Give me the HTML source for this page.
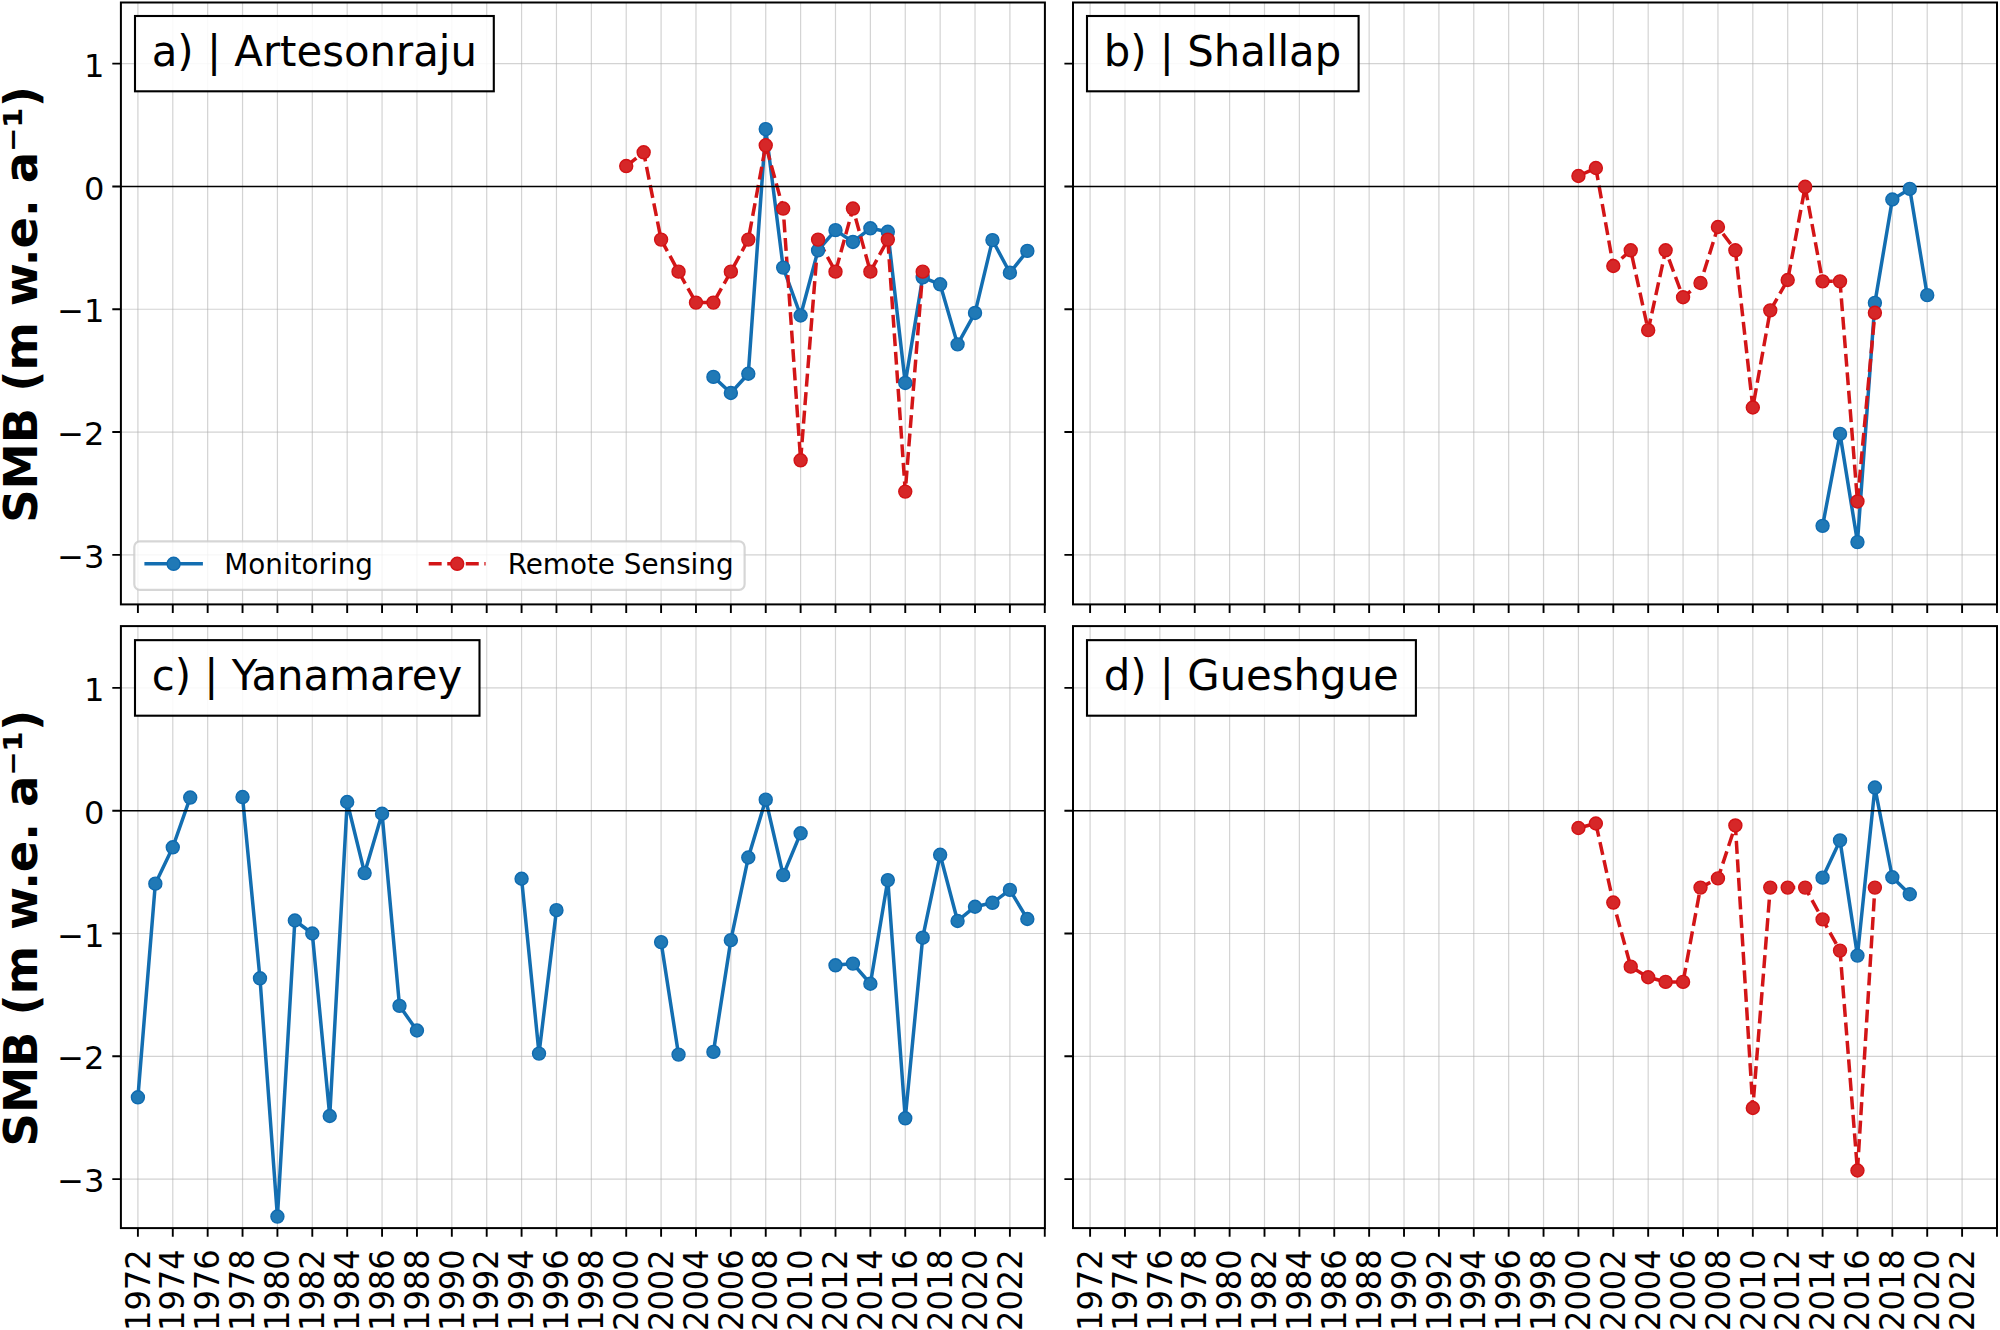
<!DOCTYPE html>
<html lang="en"><head><meta charset="utf-8"><title>SMB time series</title>
<style>
html,body{margin:0;padding:0;background:#fff;}
body{width:2000px;height:1330px;overflow:hidden;}
svg{display:block;}
text{font-family:"DejaVu Sans","Liberation Sans",sans-serif;fill:#000;}
.tk{font-size:32.1px;}
.lg{font-size:27.8px;}
.tt{font-size:41.8px;}
.yl{font-size:46.4px;font-weight:bold;}
.grid{stroke:#b0b0b0;stroke-opacity:0.56;stroke-width:1.2;fill:none;}
.sp{stroke:#000;stroke-width:2.0;fill:none;stroke-linecap:square;}
.tick{stroke:#000;stroke-width:1.9;fill:none;}
.zero{stroke:#000;stroke-width:1.6;fill:none;}
.bl{stroke:#136eb1;stroke-width:3.5;fill:none;stroke-linejoin:round;stroke-linecap:square;}
.rl{stroke:#d31517;stroke-width:3.5;fill:none;stroke-linejoin:round;stroke-dasharray:12.95 5.6;}
.bm{fill:#2079b6;stroke:#0f6bb0;stroke-width:1.4;}
.rm{fill:#d62728;stroke:#d31215;stroke-width:1.4;}
</style></head><body>
<svg width="2000" height="1330" viewBox="0 0 2000 1330">
<rect x="0" y="0" width="2000" height="1330" fill="#fff"/>
<g id="panel-a">
<path class="grid" d="M137.9 2.5V604.4M172.78 2.5V604.4M207.66 2.5V604.4M242.54 2.5V604.4M277.42 2.5V604.4M312.3 2.5V604.4M347.18 2.5V604.4M382.06 2.5V604.4M416.94 2.5V604.4M451.82 2.5V604.4M486.7 2.5V604.4M521.58 2.5V604.4M556.46 2.5V604.4M591.34 2.5V604.4M626.22 2.5V604.4M661.1 2.5V604.4M695.98 2.5V604.4M730.86 2.5V604.4M765.74 2.5V604.4M800.62 2.5V604.4M835.5 2.5V604.4M870.38 2.5V604.4M905.26 2.5V604.4M940.14 2.5V604.4M975.02 2.5V604.4M1009.9 2.5V604.4"/>
<path class="grid" d="M120.9 63.65H1044.9M120.9 309.25H1044.9M120.9 432.05H1044.9M120.9 554.85H1044.9"/>
<polyline class="bl" points="713.42,376.91 730.86,393 748.3,373.72 765.74,129.1 783.18,267.62 800.62,315.51 818.06,250.31 835.5,230.17 852.94,241.96 870.38,228.32 887.82,231.76 905.26,382.93 922.7,277.32 940.14,284.32 957.58,344.37 975.02,312.93 992.46,240.11 1009.9,272.78 1027.34,250.92"/>
<polyline class="rl" points="626.22,166.07 643.66,152.31 661.1,239.62 678.54,271.67 695.98,302.62 713.42,302.62 730.86,271.67 748.3,239.62 765.74,145.31 783.18,208.55 800.62,460.29 818.06,239.62 835.5,271.67 852.94,208.55 870.38,271.67 887.82,239.62 905.26,491.61 922.7,271.67"/>
<path class="zero" d="M120.9 186.45H1044.9"/>
<g class="bm">
<circle cx="713.42" cy="376.91" r="6.5"/>
<circle cx="730.86" cy="393" r="6.5"/>
<circle cx="748.3" cy="373.72" r="6.5"/>
<circle cx="765.74" cy="129.1" r="6.5"/>
<circle cx="783.18" cy="267.62" r="6.5"/>
<circle cx="800.62" cy="315.51" r="6.5"/>
<circle cx="818.06" cy="250.31" r="6.5"/>
<circle cx="835.5" cy="230.17" r="6.5"/>
<circle cx="852.94" cy="241.96" r="6.5"/>
<circle cx="870.38" cy="228.32" r="6.5"/>
<circle cx="887.82" cy="231.76" r="6.5"/>
<circle cx="905.26" cy="382.93" r="6.5"/>
<circle cx="922.7" cy="277.32" r="6.5"/>
<circle cx="940.14" cy="284.32" r="6.5"/>
<circle cx="957.58" cy="344.37" r="6.5"/>
<circle cx="975.02" cy="312.93" r="6.5"/>
<circle cx="992.46" cy="240.11" r="6.5"/>
<circle cx="1009.9" cy="272.78" r="6.5"/>
<circle cx="1027.34" cy="250.92" r="6.5"/>
</g>
<g class="rm">
<circle cx="626.22" cy="166.07" r="6.5"/>
<circle cx="643.66" cy="152.31" r="6.5"/>
<circle cx="661.1" cy="239.62" r="6.5"/>
<circle cx="678.54" cy="271.67" r="6.5"/>
<circle cx="695.98" cy="302.62" r="6.5"/>
<circle cx="713.42" cy="302.62" r="6.5"/>
<circle cx="730.86" cy="271.67" r="6.5"/>
<circle cx="748.3" cy="239.62" r="6.5"/>
<circle cx="765.74" cy="145.31" r="6.5"/>
<circle cx="783.18" cy="208.55" r="6.5"/>
<circle cx="800.62" cy="460.29" r="6.5"/>
<circle cx="818.06" cy="239.62" r="6.5"/>
<circle cx="835.5" cy="271.67" r="6.5"/>
<circle cx="852.94" cy="208.55" r="6.5"/>
<circle cx="870.38" cy="271.67" r="6.5"/>
<circle cx="887.82" cy="239.62" r="6.5"/>
<circle cx="905.26" cy="491.61" r="6.5"/>
<circle cx="922.7" cy="271.67" r="6.5"/>
</g>
<path class="tick" d="M137.9 604.4v8.6M172.78 604.4v8.6M207.66 604.4v8.6M242.54 604.4v8.6M277.42 604.4v8.6M312.3 604.4v8.6M347.18 604.4v8.6M382.06 604.4v8.6M416.94 604.4v8.6M451.82 604.4v8.6M486.7 604.4v8.6M521.58 604.4v8.6M556.46 604.4v8.6M591.34 604.4v8.6M626.22 604.4v8.6M661.1 604.4v8.6M695.98 604.4v8.6M730.86 604.4v8.6M765.74 604.4v8.6M800.62 604.4v8.6M835.5 604.4v8.6M870.38 604.4v8.6M905.26 604.4v8.6M940.14 604.4v8.6M975.02 604.4v8.6M1009.9 604.4v8.6M1044.78 604.4v8.6M120.9 63.65h-8.6M120.9 186.45h-8.6M120.9 309.25h-8.6M120.9 432.05h-8.6M120.9 554.85h-8.6"/>
<rect class="sp" x="120.9" y="2.5" width="924" height="601.9"/>
<text class="tk" text-anchor="end" transform="translate(104.3 76.75) scale(1 1.02)">1</text>
<text class="tk" text-anchor="end" transform="translate(104.3 199.55) scale(1 1.02)">0</text>
<text class="tk" text-anchor="end" transform="translate(104.3 322.35) scale(1 1.02)">−1</text>
<text class="tk" text-anchor="end" transform="translate(104.3 445.15) scale(1 1.02)">−2</text>
<text class="tk" text-anchor="end" transform="translate(104.3 567.95) scale(1 1.02)">−3</text>
<rect x="135" y="16" width="358.8" height="75.3" fill="#fff" fill-opacity="0.87" stroke="#000" stroke-width="2.1"/>
<text class="tt" x="151.75" y="65.6">a) | Artesonraju</text>
</g>
<g id="panel-b">
<path class="grid" d="M1090.1 2.5V604.4M1124.98 2.5V604.4M1159.86 2.5V604.4M1194.74 2.5V604.4M1229.62 2.5V604.4M1264.5 2.5V604.4M1299.38 2.5V604.4M1334.26 2.5V604.4M1369.14 2.5V604.4M1404.02 2.5V604.4M1438.9 2.5V604.4M1473.78 2.5V604.4M1508.66 2.5V604.4M1543.54 2.5V604.4M1578.42 2.5V604.4M1613.3 2.5V604.4M1648.18 2.5V604.4M1683.06 2.5V604.4M1717.94 2.5V604.4M1752.82 2.5V604.4M1787.7 2.5V604.4M1822.58 2.5V604.4M1857.46 2.5V604.4M1892.34 2.5V604.4M1927.22 2.5V604.4M1962.1 2.5V604.4"/>
<path class="grid" d="M1073 63.65H1997M1073 309.25H1997M1073 432.05H1997M1073 554.85H1997"/>
<polyline class="bl" points="1822.58,525.87 1840.02,433.89 1857.46,542.08 1874.9,302.86 1892.34,199.47 1909.78,188.91 1927.22,295.13"/>
<polyline class="rl" points="1578.42,176.01 1595.86,168.03 1613.3,266.02 1630.74,250.31 1648.18,330.13 1665.62,250.31 1683.06,297.22 1700.5,282.97 1717.94,226.97 1735.38,250.31 1752.82,407.49 1770.26,310.36 1787.7,280.02 1805.14,186.82 1822.58,281.37 1840.02,281.37 1857.46,501.43 1874.9,312.81"/>
<path class="zero" d="M1073 186.45H1997"/>
<g class="bm">
<circle cx="1822.58" cy="525.87" r="6.5"/>
<circle cx="1840.02" cy="433.89" r="6.5"/>
<circle cx="1857.46" cy="542.08" r="6.5"/>
<circle cx="1874.9" cy="302.86" r="6.5"/>
<circle cx="1892.34" cy="199.47" r="6.5"/>
<circle cx="1909.78" cy="188.91" r="6.5"/>
<circle cx="1927.22" cy="295.13" r="6.5"/>
</g>
<g class="rm">
<circle cx="1578.42" cy="176.01" r="6.5"/>
<circle cx="1595.86" cy="168.03" r="6.5"/>
<circle cx="1613.3" cy="266.02" r="6.5"/>
<circle cx="1630.74" cy="250.31" r="6.5"/>
<circle cx="1648.18" cy="330.13" r="6.5"/>
<circle cx="1665.62" cy="250.31" r="6.5"/>
<circle cx="1683.06" cy="297.22" r="6.5"/>
<circle cx="1700.5" cy="282.97" r="6.5"/>
<circle cx="1717.94" cy="226.97" r="6.5"/>
<circle cx="1735.38" cy="250.31" r="6.5"/>
<circle cx="1752.82" cy="407.49" r="6.5"/>
<circle cx="1770.26" cy="310.36" r="6.5"/>
<circle cx="1787.7" cy="280.02" r="6.5"/>
<circle cx="1805.14" cy="186.82" r="6.5"/>
<circle cx="1822.58" cy="281.37" r="6.5"/>
<circle cx="1840.02" cy="281.37" r="6.5"/>
<circle cx="1857.46" cy="501.43" r="6.5"/>
<circle cx="1874.9" cy="312.81" r="6.5"/>
</g>
<path class="tick" d="M1090.1 604.4v8.6M1124.98 604.4v8.6M1159.86 604.4v8.6M1194.74 604.4v8.6M1229.62 604.4v8.6M1264.5 604.4v8.6M1299.38 604.4v8.6M1334.26 604.4v8.6M1369.14 604.4v8.6M1404.02 604.4v8.6M1438.9 604.4v8.6M1473.78 604.4v8.6M1508.66 604.4v8.6M1543.54 604.4v8.6M1578.42 604.4v8.6M1613.3 604.4v8.6M1648.18 604.4v8.6M1683.06 604.4v8.6M1717.94 604.4v8.6M1752.82 604.4v8.6M1787.7 604.4v8.6M1822.58 604.4v8.6M1857.46 604.4v8.6M1892.34 604.4v8.6M1927.22 604.4v8.6M1962.1 604.4v8.6M1996.98 604.4v8.6M1073 63.65h-8.6M1073 186.45h-8.6M1073 309.25h-8.6M1073 432.05h-8.6M1073 554.85h-8.6"/>
<rect class="sp" x="1073" y="2.5" width="924" height="601.9"/>
<rect x="1087" y="16" width="271.6" height="75.3" fill="#fff" fill-opacity="0.87" stroke="#000" stroke-width="2.1"/>
<text class="tt" x="1103.75" y="65.6">b) | Shallap</text>
</g>
<g id="panel-c">
<path class="grid" d="M137.9 626.1V1228.1M172.78 626.1V1228.1M207.66 626.1V1228.1M242.54 626.1V1228.1M277.42 626.1V1228.1M312.3 626.1V1228.1M347.18 626.1V1228.1M382.06 626.1V1228.1M416.94 626.1V1228.1M451.82 626.1V1228.1M486.7 626.1V1228.1M521.58 626.1V1228.1M556.46 626.1V1228.1M591.34 626.1V1228.1M626.22 626.1V1228.1M661.1 626.1V1228.1M695.98 626.1V1228.1M730.86 626.1V1228.1M765.74 626.1V1228.1M800.62 626.1V1228.1M835.5 626.1V1228.1M870.38 626.1V1228.1M905.26 626.1V1228.1M940.14 626.1V1228.1M975.02 626.1V1228.1M1009.9 626.1V1228.1"/>
<path class="grid" d="M120.9 687.9H1044.9M120.9 933.5H1044.9M120.9 1056.3H1044.9M120.9 1179.1H1044.9"/>
<polyline class="bl" points="137.9,1097.32 155.34,883.64 172.78,847.29 190.22,797.56"/>
<polyline class="bl" points="242.54,797.07 259.98,978.32 277.42,1216.55 294.86,920.48 312.3,933.5 329.74,1115.98 347.18,801.98 364.62,873.08 382.06,813.77 399.5,1005.83 416.94,1030.51"/>
<polyline class="bl" points="521.58,878.73 539.02,1053.6 556.46,910.17"/>
<polyline class="bl" points="661.1,942.1 678.54,1054.58"/>
<polyline class="bl" points="713.42,1051.88 730.86,940.13 748.3,857.49 765.74,799.65 783.18,875.17 800.62,833.3"/>
<polyline class="bl" points="835.5,965.31 852.94,963.59 870.38,983.73 887.82,880.08 905.26,1118.31 922.7,937.68 940.14,854.79 957.58,920.97 975.02,906.73 992.46,902.8 1009.9,889.91 1027.34,919.01"/>
<path class="zero" d="M120.9 810.7H1044.9"/>
<g class="bm">
<circle cx="137.9" cy="1097.32" r="6.5"/>
<circle cx="155.34" cy="883.64" r="6.5"/>
<circle cx="172.78" cy="847.29" r="6.5"/>
<circle cx="190.22" cy="797.56" r="6.5"/>
<circle cx="242.54" cy="797.07" r="6.5"/>
<circle cx="259.98" cy="978.32" r="6.5"/>
<circle cx="277.42" cy="1216.55" r="6.5"/>
<circle cx="294.86" cy="920.48" r="6.5"/>
<circle cx="312.3" cy="933.5" r="6.5"/>
<circle cx="329.74" cy="1115.98" r="6.5"/>
<circle cx="347.18" cy="801.98" r="6.5"/>
<circle cx="364.62" cy="873.08" r="6.5"/>
<circle cx="382.06" cy="813.77" r="6.5"/>
<circle cx="399.5" cy="1005.83" r="6.5"/>
<circle cx="416.94" cy="1030.51" r="6.5"/>
<circle cx="521.58" cy="878.73" r="6.5"/>
<circle cx="539.02" cy="1053.6" r="6.5"/>
<circle cx="556.46" cy="910.17" r="6.5"/>
<circle cx="661.1" cy="942.1" r="6.5"/>
<circle cx="678.54" cy="1054.58" r="6.5"/>
<circle cx="713.42" cy="1051.88" r="6.5"/>
<circle cx="730.86" cy="940.13" r="6.5"/>
<circle cx="748.3" cy="857.49" r="6.5"/>
<circle cx="765.74" cy="799.65" r="6.5"/>
<circle cx="783.18" cy="875.17" r="6.5"/>
<circle cx="800.62" cy="833.3" r="6.5"/>
<circle cx="835.5" cy="965.31" r="6.5"/>
<circle cx="852.94" cy="963.59" r="6.5"/>
<circle cx="870.38" cy="983.73" r="6.5"/>
<circle cx="887.82" cy="880.08" r="6.5"/>
<circle cx="905.26" cy="1118.31" r="6.5"/>
<circle cx="922.7" cy="937.68" r="6.5"/>
<circle cx="940.14" cy="854.79" r="6.5"/>
<circle cx="957.58" cy="920.97" r="6.5"/>
<circle cx="975.02" cy="906.73" r="6.5"/>
<circle cx="992.46" cy="902.8" r="6.5"/>
<circle cx="1009.9" cy="889.91" r="6.5"/>
<circle cx="1027.34" cy="919.01" r="6.5"/>
</g>
<path class="tick" d="M137.9 1228.1v8.6M172.78 1228.1v8.6M207.66 1228.1v8.6M242.54 1228.1v8.6M277.42 1228.1v8.6M312.3 1228.1v8.6M347.18 1228.1v8.6M382.06 1228.1v8.6M416.94 1228.1v8.6M451.82 1228.1v8.6M486.7 1228.1v8.6M521.58 1228.1v8.6M556.46 1228.1v8.6M591.34 1228.1v8.6M626.22 1228.1v8.6M661.1 1228.1v8.6M695.98 1228.1v8.6M730.86 1228.1v8.6M765.74 1228.1v8.6M800.62 1228.1v8.6M835.5 1228.1v8.6M870.38 1228.1v8.6M905.26 1228.1v8.6M940.14 1228.1v8.6M975.02 1228.1v8.6M1009.9 1228.1v8.6M1044.78 1228.1v8.6M120.9 687.9h-8.6M120.9 810.7h-8.6M120.9 933.5h-8.6M120.9 1056.3h-8.6M120.9 1179.1h-8.6"/>
<rect class="sp" x="120.9" y="626.1" width="924" height="602"/>
<text class="tk" text-anchor="end" transform="translate(104.3 701) scale(1 1.02)">1</text>
<text class="tk" text-anchor="end" transform="translate(104.3 823.8) scale(1 1.02)">0</text>
<text class="tk" text-anchor="end" transform="translate(104.3 946.6) scale(1 1.02)">−1</text>
<text class="tk" text-anchor="end" transform="translate(104.3 1069.4) scale(1 1.02)">−2</text>
<text class="tk" text-anchor="end" transform="translate(104.3 1192.2) scale(1 1.02)">−3</text>
<text class="tk" text-anchor="end" transform="translate(149.6 1249.3) rotate(-90) scale(1 1.04)">1972</text>
<text class="tk" text-anchor="end" transform="translate(184.48 1249.3) rotate(-90) scale(1 1.04)">1974</text>
<text class="tk" text-anchor="end" transform="translate(219.36 1249.3) rotate(-90) scale(1 1.04)">1976</text>
<text class="tk" text-anchor="end" transform="translate(254.24 1249.3) rotate(-90) scale(1 1.04)">1978</text>
<text class="tk" text-anchor="end" transform="translate(289.12 1249.3) rotate(-90) scale(1 1.04)">1980</text>
<text class="tk" text-anchor="end" transform="translate(324 1249.3) rotate(-90) scale(1 1.04)">1982</text>
<text class="tk" text-anchor="end" transform="translate(358.88 1249.3) rotate(-90) scale(1 1.04)">1984</text>
<text class="tk" text-anchor="end" transform="translate(393.76 1249.3) rotate(-90) scale(1 1.04)">1986</text>
<text class="tk" text-anchor="end" transform="translate(428.64 1249.3) rotate(-90) scale(1 1.04)">1988</text>
<text class="tk" text-anchor="end" transform="translate(463.52 1249.3) rotate(-90) scale(1 1.04)">1990</text>
<text class="tk" text-anchor="end" transform="translate(498.4 1249.3) rotate(-90) scale(1 1.04)">1992</text>
<text class="tk" text-anchor="end" transform="translate(533.28 1249.3) rotate(-90) scale(1 1.04)">1994</text>
<text class="tk" text-anchor="end" transform="translate(568.16 1249.3) rotate(-90) scale(1 1.04)">1996</text>
<text class="tk" text-anchor="end" transform="translate(603.04 1249.3) rotate(-90) scale(1 1.04)">1998</text>
<text class="tk" text-anchor="end" transform="translate(637.92 1249.3) rotate(-90) scale(1 1.04)">2000</text>
<text class="tk" text-anchor="end" transform="translate(672.8 1249.3) rotate(-90) scale(1 1.04)">2002</text>
<text class="tk" text-anchor="end" transform="translate(707.68 1249.3) rotate(-90) scale(1 1.04)">2004</text>
<text class="tk" text-anchor="end" transform="translate(742.56 1249.3) rotate(-90) scale(1 1.04)">2006</text>
<text class="tk" text-anchor="end" transform="translate(777.44 1249.3) rotate(-90) scale(1 1.04)">2008</text>
<text class="tk" text-anchor="end" transform="translate(812.32 1249.3) rotate(-90) scale(1 1.04)">2010</text>
<text class="tk" text-anchor="end" transform="translate(847.2 1249.3) rotate(-90) scale(1 1.04)">2012</text>
<text class="tk" text-anchor="end" transform="translate(882.08 1249.3) rotate(-90) scale(1 1.04)">2014</text>
<text class="tk" text-anchor="end" transform="translate(916.96 1249.3) rotate(-90) scale(1 1.04)">2016</text>
<text class="tk" text-anchor="end" transform="translate(951.84 1249.3) rotate(-90) scale(1 1.04)">2018</text>
<text class="tk" text-anchor="end" transform="translate(986.72 1249.3) rotate(-90) scale(1 1.04)">2020</text>
<text class="tk" text-anchor="end" transform="translate(1021.6 1249.3) rotate(-90) scale(1 1.04)">2022</text>
<rect x="135" y="640.15" width="344.5" height="75.55" fill="#fff" fill-opacity="0.87" stroke="#000" stroke-width="2.1"/>
<text class="tt" x="151.75" y="689.75">c) | Yanamarey</text>
</g>
<g id="panel-d">
<path class="grid" d="M1090.1 626.1V1228.1M1124.98 626.1V1228.1M1159.86 626.1V1228.1M1194.74 626.1V1228.1M1229.62 626.1V1228.1M1264.5 626.1V1228.1M1299.38 626.1V1228.1M1334.26 626.1V1228.1M1369.14 626.1V1228.1M1404.02 626.1V1228.1M1438.9 626.1V1228.1M1473.78 626.1V1228.1M1508.66 626.1V1228.1M1543.54 626.1V1228.1M1578.42 626.1V1228.1M1613.3 626.1V1228.1M1648.18 626.1V1228.1M1683.06 626.1V1228.1M1717.94 626.1V1228.1M1752.82 626.1V1228.1M1787.7 626.1V1228.1M1822.58 626.1V1228.1M1857.46 626.1V1228.1M1892.34 626.1V1228.1M1927.22 626.1V1228.1M1962.1 626.1V1228.1"/>
<path class="grid" d="M1073 687.9H1997M1073 933.5H1997M1073 1056.3H1997M1073 1179.1H1997"/>
<polyline class="bl" points="1822.58,877.64 1840.02,840.43 1857.46,955.62 1874.9,787.57 1892.34,877.27 1909.78,894.22"/>
<polyline class="rl" points="1578.42,828.03 1595.86,823.49 1613.3,902.57 1630.74,966.67 1648.18,977.23 1665.62,981.9 1683.06,981.9 1700.5,887.59 1717.94,878.38 1735.38,825.45 1752.82,1108.01 1770.26,887.59 1787.7,887.59 1805.14,887.59 1822.58,919.39 1840.02,950.58 1857.46,1170.52 1874.9,887.59"/>
<path class="zero" d="M1073 810.7H1997"/>
<g class="bm">
<circle cx="1822.58" cy="877.64" r="6.5"/>
<circle cx="1840.02" cy="840.43" r="6.5"/>
<circle cx="1857.46" cy="955.62" r="6.5"/>
<circle cx="1874.9" cy="787.57" r="6.5"/>
<circle cx="1892.34" cy="877.27" r="6.5"/>
<circle cx="1909.78" cy="894.22" r="6.5"/>
</g>
<g class="rm">
<circle cx="1578.42" cy="828.03" r="6.5"/>
<circle cx="1595.86" cy="823.49" r="6.5"/>
<circle cx="1613.3" cy="902.57" r="6.5"/>
<circle cx="1630.74" cy="966.67" r="6.5"/>
<circle cx="1648.18" cy="977.23" r="6.5"/>
<circle cx="1665.62" cy="981.9" r="6.5"/>
<circle cx="1683.06" cy="981.9" r="6.5"/>
<circle cx="1700.5" cy="887.59" r="6.5"/>
<circle cx="1717.94" cy="878.38" r="6.5"/>
<circle cx="1735.38" cy="825.45" r="6.5"/>
<circle cx="1752.82" cy="1108.01" r="6.5"/>
<circle cx="1770.26" cy="887.59" r="6.5"/>
<circle cx="1787.7" cy="887.59" r="6.5"/>
<circle cx="1805.14" cy="887.59" r="6.5"/>
<circle cx="1822.58" cy="919.39" r="6.5"/>
<circle cx="1840.02" cy="950.58" r="6.5"/>
<circle cx="1857.46" cy="1170.52" r="6.5"/>
<circle cx="1874.9" cy="887.59" r="6.5"/>
</g>
<path class="tick" d="M1090.1 1228.1v8.6M1124.98 1228.1v8.6M1159.86 1228.1v8.6M1194.74 1228.1v8.6M1229.62 1228.1v8.6M1264.5 1228.1v8.6M1299.38 1228.1v8.6M1334.26 1228.1v8.6M1369.14 1228.1v8.6M1404.02 1228.1v8.6M1438.9 1228.1v8.6M1473.78 1228.1v8.6M1508.66 1228.1v8.6M1543.54 1228.1v8.6M1578.42 1228.1v8.6M1613.3 1228.1v8.6M1648.18 1228.1v8.6M1683.06 1228.1v8.6M1717.94 1228.1v8.6M1752.82 1228.1v8.6M1787.7 1228.1v8.6M1822.58 1228.1v8.6M1857.46 1228.1v8.6M1892.34 1228.1v8.6M1927.22 1228.1v8.6M1962.1 1228.1v8.6M1996.98 1228.1v8.6M1073 687.9h-8.6M1073 810.7h-8.6M1073 933.5h-8.6M1073 1056.3h-8.6M1073 1179.1h-8.6"/>
<rect class="sp" x="1073" y="626.1" width="924" height="602"/>
<text class="tk" text-anchor="end" transform="translate(1101.8 1249.3) rotate(-90) scale(1 1.04)">1972</text>
<text class="tk" text-anchor="end" transform="translate(1136.68 1249.3) rotate(-90) scale(1 1.04)">1974</text>
<text class="tk" text-anchor="end" transform="translate(1171.56 1249.3) rotate(-90) scale(1 1.04)">1976</text>
<text class="tk" text-anchor="end" transform="translate(1206.44 1249.3) rotate(-90) scale(1 1.04)">1978</text>
<text class="tk" text-anchor="end" transform="translate(1241.32 1249.3) rotate(-90) scale(1 1.04)">1980</text>
<text class="tk" text-anchor="end" transform="translate(1276.2 1249.3) rotate(-90) scale(1 1.04)">1982</text>
<text class="tk" text-anchor="end" transform="translate(1311.08 1249.3) rotate(-90) scale(1 1.04)">1984</text>
<text class="tk" text-anchor="end" transform="translate(1345.96 1249.3) rotate(-90) scale(1 1.04)">1986</text>
<text class="tk" text-anchor="end" transform="translate(1380.84 1249.3) rotate(-90) scale(1 1.04)">1988</text>
<text class="tk" text-anchor="end" transform="translate(1415.72 1249.3) rotate(-90) scale(1 1.04)">1990</text>
<text class="tk" text-anchor="end" transform="translate(1450.6 1249.3) rotate(-90) scale(1 1.04)">1992</text>
<text class="tk" text-anchor="end" transform="translate(1485.48 1249.3) rotate(-90) scale(1 1.04)">1994</text>
<text class="tk" text-anchor="end" transform="translate(1520.36 1249.3) rotate(-90) scale(1 1.04)">1996</text>
<text class="tk" text-anchor="end" transform="translate(1555.24 1249.3) rotate(-90) scale(1 1.04)">1998</text>
<text class="tk" text-anchor="end" transform="translate(1590.12 1249.3) rotate(-90) scale(1 1.04)">2000</text>
<text class="tk" text-anchor="end" transform="translate(1625 1249.3) rotate(-90) scale(1 1.04)">2002</text>
<text class="tk" text-anchor="end" transform="translate(1659.88 1249.3) rotate(-90) scale(1 1.04)">2004</text>
<text class="tk" text-anchor="end" transform="translate(1694.76 1249.3) rotate(-90) scale(1 1.04)">2006</text>
<text class="tk" text-anchor="end" transform="translate(1729.64 1249.3) rotate(-90) scale(1 1.04)">2008</text>
<text class="tk" text-anchor="end" transform="translate(1764.52 1249.3) rotate(-90) scale(1 1.04)">2010</text>
<text class="tk" text-anchor="end" transform="translate(1799.4 1249.3) rotate(-90) scale(1 1.04)">2012</text>
<text class="tk" text-anchor="end" transform="translate(1834.28 1249.3) rotate(-90) scale(1 1.04)">2014</text>
<text class="tk" text-anchor="end" transform="translate(1869.16 1249.3) rotate(-90) scale(1 1.04)">2016</text>
<text class="tk" text-anchor="end" transform="translate(1904.04 1249.3) rotate(-90) scale(1 1.04)">2018</text>
<text class="tk" text-anchor="end" transform="translate(1938.92 1249.3) rotate(-90) scale(1 1.04)">2020</text>
<text class="tk" text-anchor="end" transform="translate(1973.8 1249.3) rotate(-90) scale(1 1.04)">2022</text>
<rect x="1087" y="640.15" width="328.9" height="75.55" fill="#fff" fill-opacity="0.87" stroke="#000" stroke-width="2.1"/>
<text class="tt" x="1103.75" y="689.75">d) | Gueshgue</text>
</g>
<text class="yl" text-anchor="middle" transform="translate(37.0 304.45) rotate(-90)">SMB (m w.e. a⁻¹)</text>
<text class="yl" text-anchor="middle" transform="translate(37.0 928.1) rotate(-90)">SMB (m w.e. a⁻¹)</text>
<g id="legend">
<rect x="134.3" y="541.4" width="610.3" height="48.4" rx="5.5" ry="5.5" fill="#fff" fill-opacity="0.8" stroke="#ccc" stroke-opacity="0.8" stroke-width="2.2"/>
<path class="bl" style="stroke-linecap:butt" d="M144.4 563.8H202.9"/>
<circle class="bm" cx="173.6" cy="563.8" r="6.5"/>
<text class="lg" x="224.3" y="574">Monitoring</text>
<path class="rl" d="M428.7 563.8H485.6"/>
<circle class="rm" cx="457.2" cy="563.8" r="6.5"/>
<text class="lg" x="507.7" y="574">Remote Sensing</text>
</g>
</svg>
</body></html>
